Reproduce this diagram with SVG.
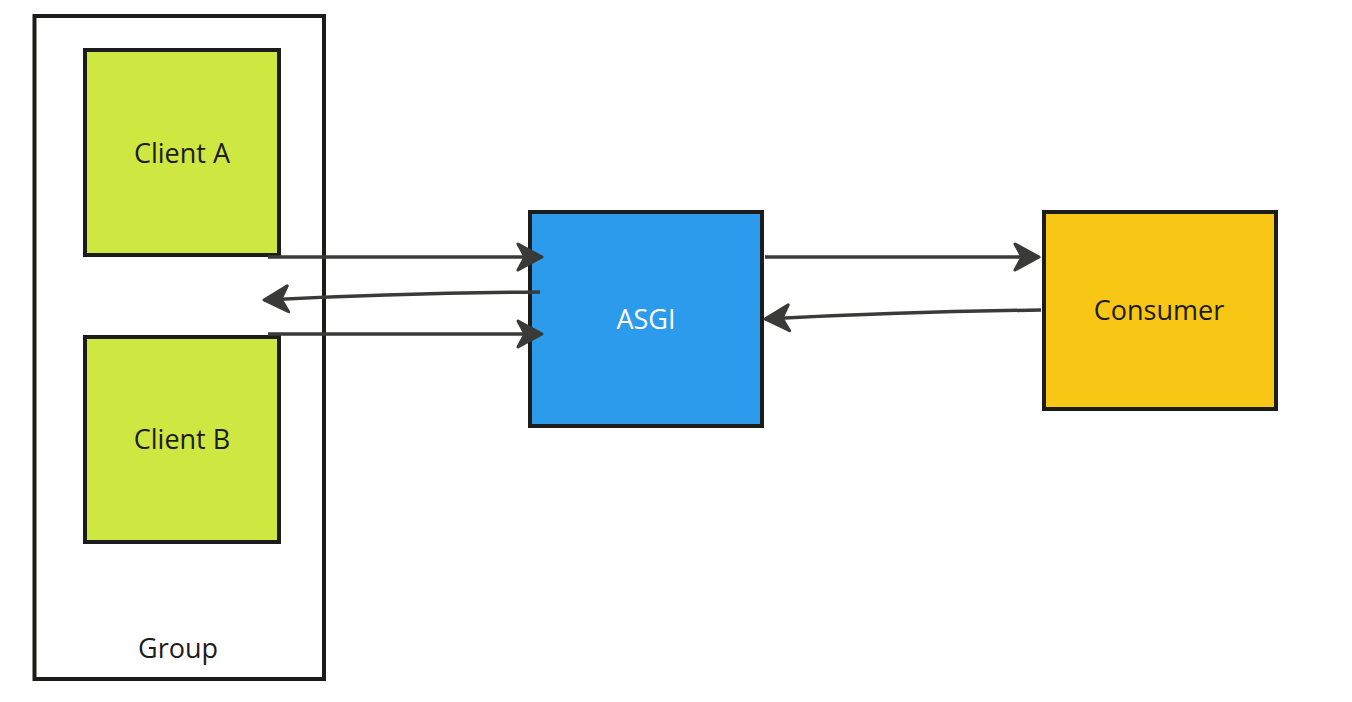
<svg xmlns="http://www.w3.org/2000/svg" width="1352" height="702" viewBox="0 0 1352 702">
<style>
.box{stroke:#1c1c1a;stroke-width:4}
.lbl{font-family:"Open Sans","Noto Sans",sans-serif;font-size:27px;fill:#1c1c1a;text-anchor:middle}
.edge{fill:none;stroke:#3a3a38;stroke-width:3.5;stroke-linecap:butt}
</style>
<defs>
<marker id="ah" markerUnits="userSpaceOnUse" viewBox="-28 -17 31 34" refX="0" refY="0" markerWidth="31" markerHeight="34" orient="auto">
<path d="M0,0 L-24,-13 L-17,0 L-24,13 Z" fill="#3a3a38" stroke="#3a3a38" stroke-width="3" stroke-linejoin="round"/>
</marker>
</defs>
<rect width="1352" height="702" fill="#ffffff"/>
<g id="group">
<rect class="box" x="34.5" y="16" width="289.5" height="663" fill="#ffffff" stroke-width="3.5"/>
<text class="lbl" x="178" y="658">Group</text>
</g>
<g id="clientA">
<rect class="box" x="85" y="50" width="194" height="205" fill="#CFE741"/>
<text class="lbl" x="182" y="163">Client A</text>
</g>
<g id="clientB">
<rect class="box" x="85" y="337" width="194" height="205" fill="#CFE741"/>
<text class="lbl" x="182" y="449">Client B</text>
</g>
<g id="asgi">
<rect class="box" x="530" y="212" width="232" height="214" fill="#2D9BEB"/>
<text class="lbl" x="646" y="329" style="fill:#ffffff">ASGI</text>
</g>
<g id="consumer">
<rect class="box" x="1044" y="212" width="232" height="197" fill="#F8C614"/>
<text class="lbl" x="1159" y="320">Consumer</text>
</g>
<g id="connectors">
<path class="edge" d="M268,257 L542,257" marker-end="url(#ah)"/>
<path class="edge" d="M540,292 Q400,293 264,300" marker-end="url(#ah)"/>
<path class="edge" d="M268,334 L542,334" marker-end="url(#ah)"/>
<path class="edge" d="M765,257 L1039,257" marker-end="url(#ah)"/>
<path class="edge" d="M1041,310 Q900,312 765,319" marker-end="url(#ah)"/>
</g>
</svg>
